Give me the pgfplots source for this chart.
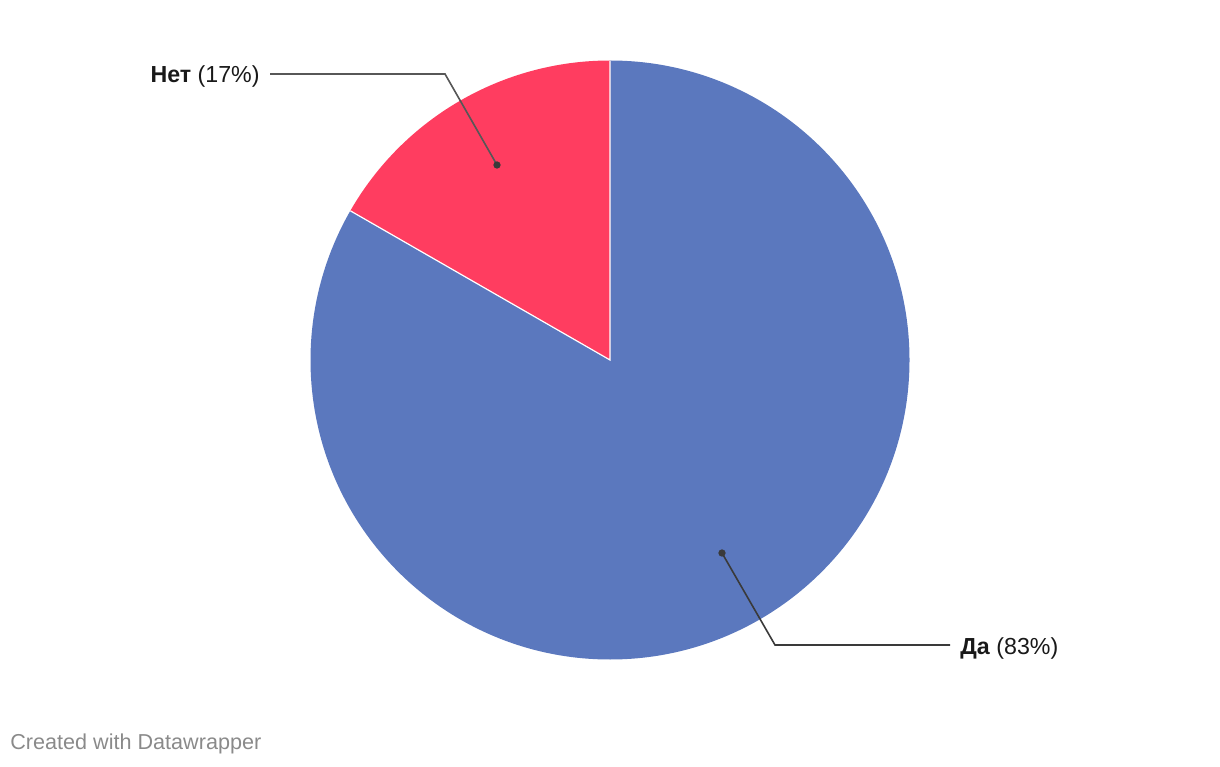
\documentclass[border=0pt]{standalone}
\usepackage{pgfplots}
\pgfplotsset{compat=1.18}
\usepackage{fontspec}
\setmainfont{Liberation Sans}
\definecolor{piered}{HTML}{FF3D60}
\definecolor{pieblue}{HTML}{5B78BE}
\definecolor{leader}{HTML}{3A3A3A}
\definecolor{footer}{HTML}{8A8A8A}
% data: share of answers (percent)
\def\valNo{16.7}
\def\valYes{83.3}
\begin{document}
\begin{tikzpicture}
\begin{axis}[
  x=0.5pt, y=0.5pt,
  xmin=-610, xmax=610, ymin=-406, ymax=360,
  hide axis, clip=false,
]
\path (axis cs:-610,-406) rectangle (axis cs:610,360);
\pgfmathsetmacro{\angNo}{90+3.6*\valNo}
% Да slice
\fill[pieblue] (axis cs:0,0) -- (axis cs:0,299.5) arc[start angle=90, end angle=\angNo-360, radius=149.75pt] -- cycle;
% Нет slice
\fill[piered] (axis cs:0,0) -- (axis cs:0,299.5) arc[start angle=90, end angle=\angNo, radius=149.75pt] -- cycle;
\draw[white, line width=0.6pt] (axis cs:0,299.5) -- (axis cs:0,0) -- ++(\angNo:149.75pt);
% leader lines
\addplot[leader!85, line width=0.8pt, no markers] coordinates {(-113,195) (-165,286) (-340,286)};
\addplot[leader, line width=0.8pt, no markers] coordinates {(112,-193) (165,-285) (340,-285)};
\addplot[only marks, mark=*, mark size=1.6pt, leader] coordinates {(-113,195) (112,-193)};
% labels
\node[anchor=east, font=\fontsize{11.6}{13}\selectfont, text=black!90, inner sep=0pt] at (axis cs:-350,283) {\textbf{Нет} (17\%)};
\node[anchor=west, font=\fontsize{11.6}{13}\selectfont, text=black!90, inner sep=0pt] at (axis cs:350,-288) {\textbf{Да} (83\%)};
\node[anchor=west, font=\fontsize{10.8}{12}\selectfont, text=footer, inner sep=0pt] at (axis cs:-600,-384) {Created with Datawrapper};
\end{axis}
\end{tikzpicture}
\end{document}
